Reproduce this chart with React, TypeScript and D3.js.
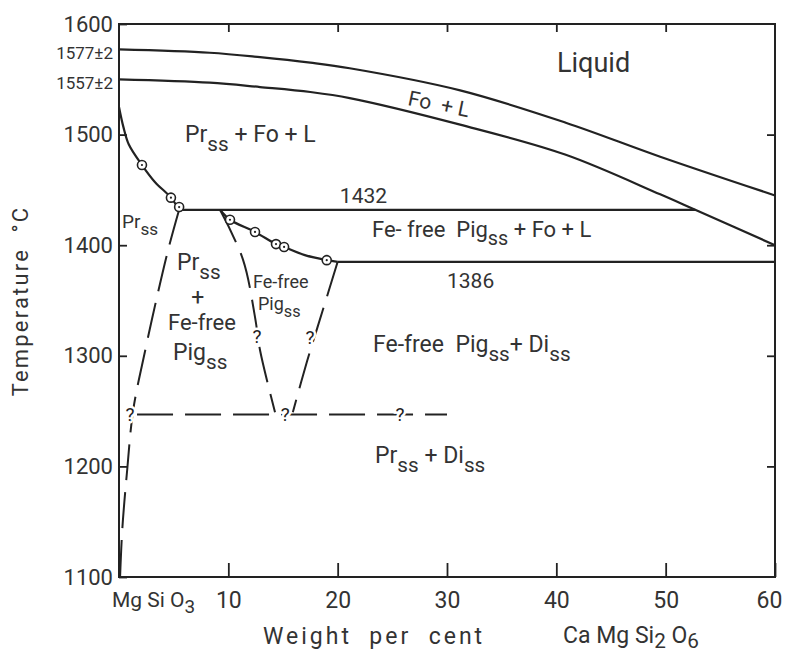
import { useEffect, useRef } from "react";
import * as d3 from "d3";

const W = 785;
const H = 656;

// [wt% CaMgSi2O6, temperature °C]
const upperLiquidus: [number, number][] = [
  [0, 1577], [8.3, 1574], [12.9, 1570], [17.5, 1565], [21.1, 1560],
  [31.2, 1540], [40.8, 1511], [49.5, 1480], [60, 1445],
];
const lowerLiquidus: [number, number][] = [
  [0, 1550], [8.3, 1547], [12.9, 1543], [17.5, 1538.5], [21.1, 1533],
  [31.2, 1509], [40.8, 1482], [49.5, 1446], [52.7, 1432], [60, 1400],
];
const prLiquidus: [number, number][] = [
  [0, 1525], [0.4, 1507], [0.9, 1491], [2.1, 1472.5], [3.3, 1457],
  [4.75, 1443], [5.5, 1432],
];
const prPoints: [number, number][] = [[2.1, 1472.5], [4.75, 1443], [5.5, 1434.5]];
const pigLiquidus: [number, number][] = [
  [9.24, 1432], [10.15, 1423], [12.44, 1412], [14.36, 1401], [15.1, 1398.4],
  [17, 1391], [19, 1386.5], [20, 1385],
];
const pigPoints: [number, number][] = [
  [10.15, 1423], [12.44, 1412], [14.36, 1401], [15.1, 1398.4], [19, 1386.5],
];
const iso1432: [number, number][] = [[5.5, 1432], [52.7, 1432]];
const iso1386: [number, number][] = [[20, 1385], [60, 1385]];

// dashed (inferred) boundaries
const prSolvus: [number, number][] = [
  [5.5, 1432], [4.5, 1396], [3.4, 1350], [2.4, 1305], [1.3, 1251],
  [0.75, 1197], [0.3, 1143], [0.1, 1100],
];
const pigSolvusLeft: [number, number][] = [
  [9.24, 1432], [11.34, 1387], [12.44, 1335], [12.9, 1305], [14.27, 1249],
];
const pigSolvusRight: [number, number][] = [
  [20, 1385], [18.6, 1340], [17.2, 1295], [15.9, 1249],
];
const lowerBoundary: [number, number][] = [[1.65, 1247], [30, 1247]];
const queries: [number, number][] = [
  [1.0, 1247], [15.2, 1247], [25.7, 1247], [12.62, 1318], [17.47, 1317],
];

const xTicks = [10, 20, 30, 40, 50, 60];
const yTicks = [1100, 1200, 1300, 1400, 1500, 1600];

type Part = { t: string; sub?: boolean };
const fields: { parts: Part[]; at: [number, number]; size: number; rot?: number }[] = [
  { parts: [{ t: "Liquid" }], at: [40.06, 1556.6], size: 27 },
  { parts: [{ t: "Fo  + L" }], at: [26.34, 1526.8], size: 21, rot: 11.5 },
  { parts: [{ t: "Pr" }, { t: "ss", sub: true }, { t: " + Fo + L" }], at: [6.04, 1493.3], size: 23 },
  { parts: [{ t: "1432" }], at: [20.2, 1438.2], size: 21 },
  { parts: [{ t: "Fe- free  Pig" }, { t: "ss", sub: true }, { t: " + Fo + L" }], at: [23.14, 1407.4], size: 22 },
  { parts: [{ t: "1386" }], at: [30.0, 1361.3], size: 21 },
  { parts: [{ t: "Pr" }, { t: "ss", sub: true }], at: [0.27, 1415.6], size: 19 },
  { parts: [{ t: "Pr" }, { t: "ss", sub: true }], at: [5.3, 1377.6], size: 23 },
  { parts: [{ t: "+" }], at: [6.6, 1345.9], size: 23 },
  { parts: [{ t: "Fe-free" }], at: [4.48, 1323.3], size: 22 },
  { parts: [{ t: "Pig" }, { t: "ss", sub: true }], at: [4.94, 1296.2], size: 23 },
  { parts: [{ t: "Fe-free" }], at: [12.26, 1361.3], size: 18 },
  { parts: [{ t: "Pig" }, { t: "ss", sub: true }], at: [12.71, 1341.4], size: 18 },
  { parts: [{ t: "Fe-free  Pig" }, { t: "ss", sub: true }, { t: "+ Di" }, { t: "ss", sub: true }], at: [23.23, 1303.4], size: 23 },
  { parts: [{ t: "Pr" }, { t: "ss", sub: true }, { t: " + Di" }, { t: "ss", sub: true }], at: [23.42, 1203], size: 23 },
];

const INK = "#222";
const TEXT = "#333";
const FONT = "Roboto, 'DejaVu Sans', sans-serif";

const App = () => {
  const svgRef = useRef<SVGSVGElement>(null);

  useEffect(() => {
    const margin = { top: 24, right: 10, bottom: 79, left: 119 };
    const svg = d3.select(svgRef.current);
    svg.selectAll("*").remove();

    const x = d3.scaleLinear().domain([0, 60]).range([margin.left, W - margin.right]);
    const y = d3.scaleLinear().domain([1100, 1600]).range([H - margin.bottom, margin.top]);

    const writeParts = (sel: any, parts: Part[], size: number, shiftK = 0.38) => {
      const shift = Math.round(size * shiftK);
      let down = false;
      parts.forEach((p) => {
        const ts = sel.append("tspan").text(p.t);
        if (p.sub && !down) {
          ts.attr("dy", shift).attr("font-size", size * 0.9);
          down = true;
        } else if (!p.sub && down) {
          ts.attr("dy", -shift);
          down = false;
        } else if (p.sub) {
          ts.attr("font-size", size * 0.9);
        }
      });
    };

    // axes, ticks inward
    const bottom = svg
      .append("g")
      .attr("transform", `translate(0,${y(1100)})`)
      .call(d3.axisBottom(x).tickValues(xTicks).tickSizeInner(-14).tickSizeOuter(0).tickPadding(15));
    bottom.selectAll(".tick text").filter((d: any) => d === 60).attr("dx", -6);

    const left = svg
      .append("g")
      .attr("transform", `translate(${x(0)},0)`)
      .call(
        d3.axisLeft(y).tickValues(yTicks).tickFormat(d3.format("d")).tickSizeInner(-8).tickSizeOuter(0).tickPadding(6)
      );

    svg
      .append("g")
      .attr("transform", `translate(0,${y(1600)})`)
      .call(d3.axisTop(x).tickValues([10, 20, 30, 40, 50]).tickSize(-8).tickFormat(() => ""));
    svg
      .append("g")
      .attr("transform", `translate(${x(60)},0)`)
      .call(d3.axisRight(y).tickValues([1200, 1300, 1400, 1500]).tickSize(-8).tickFormat(() => ""));

    svg.selectAll(".domain").remove();
    svg.selectAll(".tick line").attr("stroke", INK).attr("stroke-width", 1.8);
    bottom.selectAll("text").attr("font-size", 23).attr("font-family", FONT).attr("fill", TEXT);
    left.selectAll("text").attr("font-size", 22).attr("font-family", FONT).attr("fill", TEXT);

    // frame
    svg
      .append("rect")
      .attr("x", x(0))
      .attr("y", y(1600))
      .attr("width", x(60) - x(0))
      .attr("height", y(1100) - y(1600))
      .attr("fill", "none")
      .attr("stroke", INK)
      .attr("stroke-width", 2);

    // liquidus start labels
    [upperLiquidus[0], lowerLiquidus[0]].forEach((d, i) => {
      svg
        .append("text")
        .attr("x", x(0) - 6)
        .attr("y", y(d[1]) + 10)
        .attr("text-anchor", "end")
        .attr("font-size", 17)
        .attr("font-family", FONT)
        .attr("fill", TEXT)
        .text(i === 0 ? "1577±2" : "1557±2");
    });

    const line = d3.line<[number, number]>().x((d) => x(d[0])).y((d) => y(d[1]));
    const smooth = line.curve(d3.curveCatmullRom.alpha(0.5));

    const solid = [upperLiquidus, lowerLiquidus, prLiquidus, pigLiquidus, iso1432, iso1386];
    solid.forEach((d) => {
      svg
        .append("path")
        .datum(d)
        .attr("fill", "none")
        .attr("stroke", INK)
        .attr("stroke-width", 2.2)
        .attr("d", smooth);
    });

    [prSolvus, pigSolvusLeft, pigSolvusRight, lowerBoundary].forEach((d) => {
      svg
        .append("path")
        .datum(d)
        .attr("fill", "none")
        .attr("stroke", INK)
        .attr("stroke-width", 2)
        .attr("stroke-dasharray", "36 12")
        .attr("d", smooth);
    });

    // experimental points
    const pts = svg.append("g");
    [...prPoints, ...pigPoints].forEach((d) => {
      pts
        .append("circle")
        .attr("cx", x(d[0]))
        .attr("cy", y(d[1]))
        .attr("r", 4.5)
        .attr("fill", "#fff")
        .attr("stroke", INK)
        .attr("stroke-width", 1.6);
      pts
        .append("circle")
        .attr("cx", x(d[0]))
        .attr("cy", y(d[1]))
        .attr("r", 1.1)
        .attr("fill", INK);
    });

    // question marks on inferred boundaries
    queries.forEach((d) => {
      svg
        .append("text")
        .attr("x", x(d[0]))
        .attr("y", y(d[1]) + 7)
        .attr("text-anchor", "middle")
        .attr("font-size", 19)
        .attr("font-family", FONT)
        .attr("fill", INK)
        .attr("stroke", "#fff")
        .attr("stroke-width", 5)
        .attr("paint-order", "stroke")
        .text("?");
    });

    // phase field labels
    fields.forEach((f) => {
      const px = x(f.at[0]);
      const py = y(f.at[1]);
      const t = svg
        .append("text")
        .attr("x", px)
        .attr("y", py)
        .attr("font-size", f.size)
        .attr("font-family", FONT)
        .attr("fill", TEXT)
        .style("white-space", "pre");
      if (f.rot) t.attr("transform", `rotate(${f.rot},${px},${py})`);
      writeParts(t, f.parts, f.size);
    });

    // axis titles
    const mg = svg
      .append("text")
      .attr("x", 112)
      .attr("y", 607)
      .attr("font-size", 21)
      .attr("font-family", FONT)
      .attr("fill", TEXT)
      .style("white-space", "pre");
    writeParts(mg, [{ t: "Mg Si O" }, { t: "3", sub: true }], 21, 0.3);

    svg
      .append("text")
      .attr("x", 263)
      .attr("y", 644)
      .attr("font-size", 23)
      .attr("letter-spacing", 3)
      .attr("font-family", FONT)
      .attr("fill", TEXT)
      .style("white-space", "pre")
      .text("Weight  per  cent");

    const di = svg
      .append("text")
      .attr("x", 563)
      .attr("y", 643)
      .attr("font-size", 23)
      .attr("font-family", FONT)
      .attr("fill", TEXT)
      .style("white-space", "pre");
    writeParts(di, [{ t: "Ca Mg Si" }, { t: "2", sub: true }, { t: " O" }, { t: "6", sub: true }], 23, 0.2);

    svg
      .append("text")
      .attr("transform", "translate(28,301) rotate(-90)")
      .attr("text-anchor", "middle")
      .attr("font-size", 22)
      .attr("letter-spacing", 2.2)
      .attr("font-family", FONT)
      .attr("fill", TEXT)
      .style("white-space", "pre")
      .text("Temperature  °C");
  }, []);

  return (
    <svg
      ref={svgRef}
      width={W}
      height={H}
      style={{ position: "absolute", left: 0, top: 0, background: "#fff" }}
    />
  );
};

export default App;
